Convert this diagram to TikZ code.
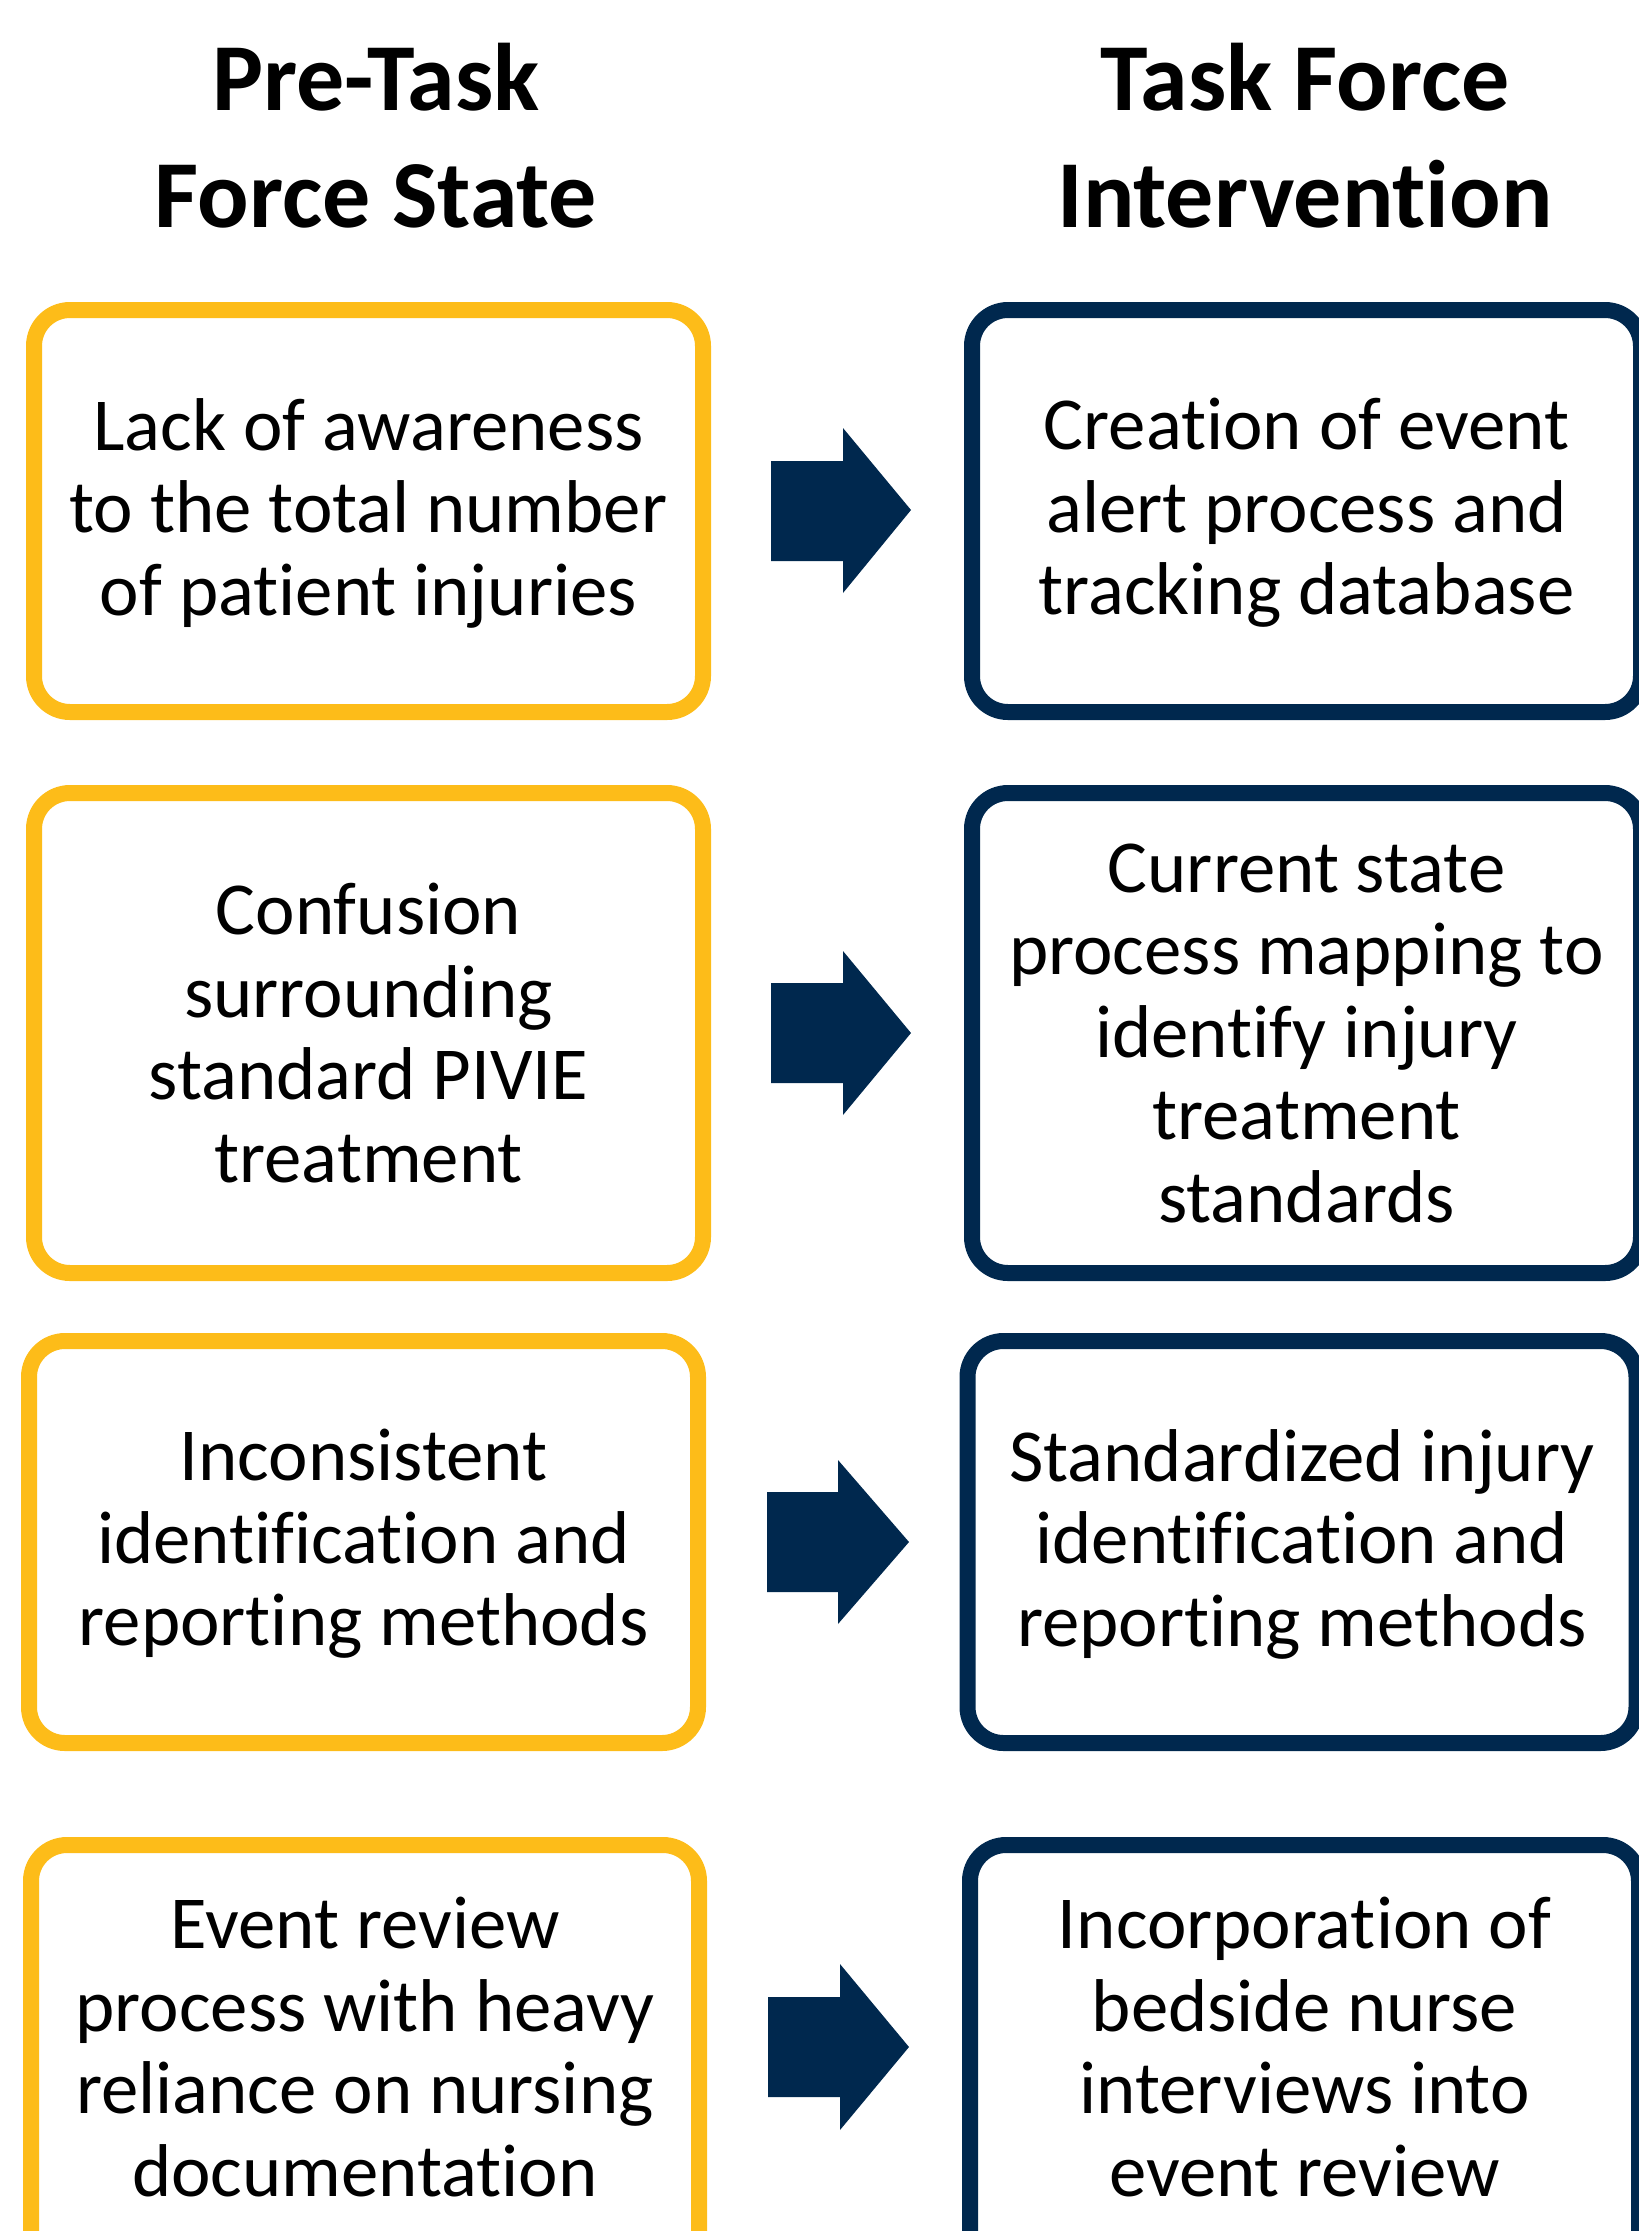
\documentclass[tikz,border=0pt]{standalone}
\usepackage{fontspec}
\setmainfont{Carlito}[Ligatures=NoCommon]
\definecolor{maize}{RGB}{253,188,25}
\definecolor{navy}{RGB}{0,40,78}
\begin{document}
\begin{tikzpicture}[x=1pt,y=-1pt,
  box/.style={draw, line width=16pt, rounded corners=36pt, fill=white, inner sep=0pt, outer sep=0pt},
  prebox/.style={box, draw=maize},
  tfbox/.style={box, draw=navy},
  txt/.style={align=center, font=\fontsize{74.8}{82.5}\selectfont, text=black, inner sep=0pt},
  head/.style={align=center, font=\fontsize{96}{117}\selectfont\bfseries, text=black, inner sep=0pt, anchor=base},
  blockarrow/.style={fill=navy, draw=none}]
\useasboundingbox (0,0) rectangle (1639,2231);
\clip (0,0) rectangle (1639,2231);

% headings
\node[head] (h1a) at (376,110) {Pre-Task};
\node[head] (h1b) at (376,227) {Force State};
\node[head] (h2a) at (1305,110) {Task Force};
\node[head] (h2b) at (1305,227) {Intervention};

% row 1
\node[prebox, minimum width=669pt, minimum height=402pt] (p1) at (368.5,511) {};
\node[tfbox, minimum width=669pt, minimum height=402pt] (t1) at (1306.5,511) {};
\node[txt] (p1t) at (368.5,513) {Lack of awareness\\to the total number\\of patient injuries};
\node[txt] (t1t) at (1306.5,513) {Creation of event\\alert process and\\tracking database};
\fill[blockarrow] (771,461) -- (843,461) -- (843,428) -- (911,510) -- (843,593) -- (843,561) -- (771,561) -- cycle;

% row 2
\node[prebox, minimum width=669pt, minimum height=480pt] (p2) at (368.5,1033) {};
\node[tfbox, minimum width=669pt, minimum height=480pt] (t2) at (1306.5,1033) {};
\node[txt] (p2t) at (368.5,1033) {Confusion\\surrounding\\standard PIVIE\\treatment};
\node[txt] (t2t) at (1306.5,1033) {Current state\\process mapping to\\identify injury\\treatment\\standards};
\fill[blockarrow] (771,983) -- (843,983) -- (843,951) -- (911,1033) -- (843,1115) -- (843,1083) -- (771,1083) -- cycle;

% row 3
\node[prebox, minimum width=669pt, minimum height=402pt] (p3) at (363.5,1542) {};
\node[tfbox, minimum width=669pt, minimum height=402pt] (t3) at (1302,1542) {};
\node[txt] (p3t) at (363.5,1544) {Inconsistent\\identification and\\reporting methods};
\node[txt] (t3t) at (1302,1544) {Standardized injury\\identification and\\reporting methods};
\fill[blockarrow] (767,1492) -- (838,1492) -- (838,1460) -- (909,1542) -- (838,1624) -- (838,1592) -- (767,1592) -- cycle;

% row 4
\node[prebox, minimum width=668pt, minimum height=460pt] (p4) at (365,2075) {};
\node[tfbox, minimum width=669pt, minimum height=460pt] (t4) at (1304.5,2075) {};
\node[txt] (p4t) at (365,2047) {Event review\\process with heavy\\reliance on nursing\\documentation};
\node[txt] (t4t) at (1304.5,2047) {Incorporation of\\bedside nurse\\interviews into\\event review};
\fill[blockarrow] (768,1997) -- (840,1997) -- (840,1964) -- (909,2047) -- (840,2130) -- (840,2097) -- (768,2097) -- cycle;
\end{tikzpicture}
\end{document}
